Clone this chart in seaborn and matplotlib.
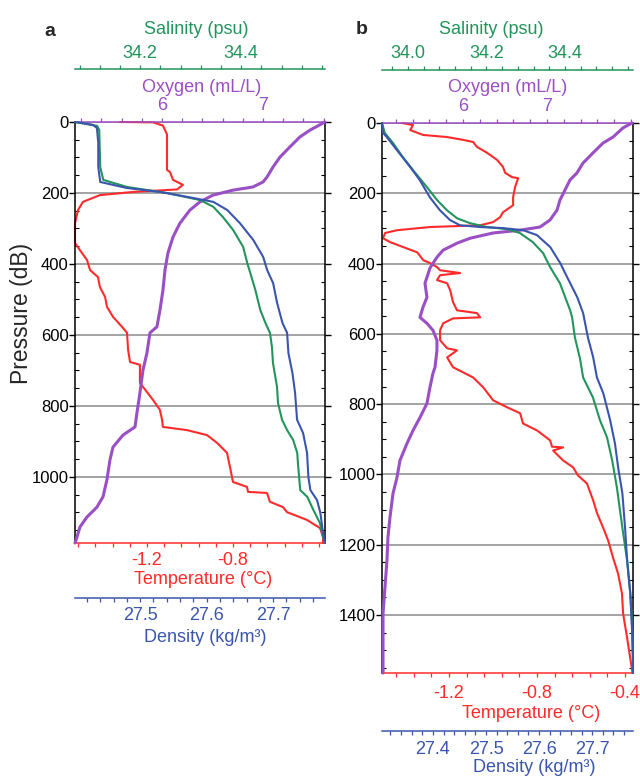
import matplotlib
matplotlib.use("Agg")
import matplotlib.pyplot as plt
from matplotlib.ticker import FixedLocator, MultipleLocator
import seaborn as sns

sns.set_style("ticks")
plt.rcParams["font.family"] = ["Liberation Sans", "DejaVu Sans"]

RED = "#ff2b2b"
PURPLE = "#9a4fc4"
GREEN = "#23945c"
BLUE = "#3a55ad"
GRID = "#8a8a8a"

# ---------------- Station a ----------------
a_temp_p = [0, 1, 10, 35, 135, 141, 163, 177, 190, 197, 206, 225, 248, 285, 341, 361,
            389, 417, 437, 465, 493, 521, 549, 580, 594, 642, 676, 684, 735, 761, 783,
            811, 839, 859, 868, 882, 904, 932, 972, 1014, 1028, 1042, 1045, 1070, 1085,
            1099, 1121, 1144, 1169, 1186]
a_temp = [-1.326, -1.172, -1.126, -1.107, -1.107, -1.093, -1.079, -1.033, -1.060, -1.265,
          -1.419, -1.498, -1.521, -1.535, -1.535, -1.512, -1.479, -1.465, -1.428, -1.419,
          -1.395, -1.386, -1.358, -1.312, -1.293, -1.288, -1.279, -1.233, -1.233, -1.200,
          -1.172, -1.140, -1.130, -1.126, -1.014, -0.921, -0.874, -0.828, -0.814, -0.800,
          -0.735, -0.730, -0.642, -0.628, -0.567, -0.549, -0.456, -0.395, -0.381, -0.381]

a_oxy_p = [0, 23, 42, 70, 99, 127, 155, 169, 183, 192, 206, 225, 248, 285, 324, 369, 417,
           473, 530, 577, 594, 651, 699, 763, 820, 859, 882, 916, 952, 1008, 1056, 1085,
           1113, 1141, 1178, 1186]
a_oxy = [7.614, 7.465, 7.366, 7.267, 7.168, 7.099, 7.040, 7.000, 6.901, 6.703, 6.505,
         6.376, 6.277, 6.178, 6.109, 6.059, 6.030, 6.010, 5.980, 5.950, 5.881, 5.851,
         5.812, 5.782, 5.752, 5.733, 5.614, 5.515, 5.485, 5.455, 5.416, 5.356, 5.257,
         5.188, 5.149, 5.139]

a_sal_p = [0, 11, 23, 127, 163, 183, 200, 220, 239, 268, 304, 352, 397, 425, 473, 530,
           566, 594, 634, 679, 746, 792, 839, 868, 896, 932, 972, 1037, 1056, 1093, 1130,
           1169, 1186]
a_sal = [34.071, 34.115, 34.119, 34.121, 34.127, 34.174, 34.253, 34.319, 34.345, 34.364,
         34.384, 34.404, 34.412, 34.418, 34.428, 34.438, 34.448, 34.457, 34.461, 34.463,
         34.471, 34.473, 34.481, 34.491, 34.503, 34.511, 34.513, 34.517, 34.531, 34.543,
         34.556, 34.562, 34.566]

a_dens_p = [0, 8, 17, 59, 127, 169, 186, 197, 211, 225, 248, 285, 332, 380, 417, 454, 510,
            566, 594, 651, 707, 763, 839, 876, 932, 1000, 1037, 1065, 1101, 1158, 1186]
a_dens = [27.402, 27.429, 27.435, 27.437, 27.437, 27.440, 27.480, 27.530, 27.571, 27.610,
          27.631, 27.650, 27.670, 27.685, 27.691, 27.700, 27.706, 27.714, 27.721, 27.723,
          27.729, 27.733, 27.736, 27.745, 27.751, 27.753, 27.756, 27.766, 27.771, 27.775,
          27.778]

# ---------------- Station b ----------------
b_temp_p = [0, 6, 20, 34, 40, 48, 54, 68, 85, 105, 125, 142, 154, 157, 182, 211, 234, 254,
            268, 282, 291, 296, 305, 313, 328, 339, 353, 368, 390, 399, 410, 419, 427, 433,
            447, 456, 476, 510, 533, 541, 553, 556, 570, 590, 618, 641, 647, 667, 695, 724,
            752, 789, 809, 826, 855, 875, 903, 921, 923, 932, 960, 980, 1003, 1026, 1074,
            1111, 1151, 1188, 1236, 1282, 1339, 1396, 1464, 1521, 1565]
b_temp = [-1.414, -1.364, -1.377, -1.318, -1.209, -1.136, -1.091, -1.073, -1.027, -0.982,
          -0.955, -0.945, -0.914, -0.886, -0.900, -0.909, -0.909, -0.955, -0.968, -1.000,
          -1.059, -1.286, -1.436, -1.491, -1.500, -1.468, -1.409, -1.345, -1.318, -1.286,
          -1.255, -1.241, -1.150, -1.241, -1.255, -1.209, -1.195, -1.182, -1.164, -1.073,
          -1.059, -1.182, -1.227, -1.241, -1.241, -1.209, -1.164, -1.209, -1.182, -1.091,
          -1.045, -1.000, -0.936, -0.877, -0.864, -0.800, -0.741, -0.732, -0.682, -0.727,
          -0.682, -0.636, -0.614, -0.573, -0.545, -0.527, -0.500, -0.477, -0.455, -0.432,
          -0.414, -0.409, -0.391, -0.377, -0.366]

b_oxy_p = [0, 14, 40, 57, 85, 114, 142, 162, 191, 219, 248, 276, 296, 305, 313, 328, 342,
           362, 382, 399, 413, 439, 456, 496, 524, 553, 570, 590, 618, 647, 695, 712, 752,
           798, 838, 875, 912, 960, 1009, 1054, 1122, 1179, 1245, 1322, 1396, 1521, 1565]
b_oxy = [8.012, 7.905, 7.786, 7.667, 7.548, 7.429, 7.357, 7.274, 7.214, 7.155, 7.119,
         7.036, 6.917, 6.679, 6.357, 6.083, 5.929, 5.762, 5.690, 5.643, 5.607, 5.571,
         5.548, 5.571, 5.524, 5.488, 5.571, 5.643, 5.690, 5.690, 5.667, 5.643, 5.607,
         5.571, 5.488, 5.405, 5.333, 5.250, 5.214, 5.167, 5.131, 5.107, 5.095, 5.071,
         5.048, 5.048, 5.048]

b_sal_p = [0, 28, 57, 97, 134, 182, 219, 248, 271, 285, 296, 302, 313, 339, 370, 410, 456,
           533, 553, 610, 670, 724, 781, 846, 895, 960, 1037, 1103, 1168, 1245, 1339, 1436,
           1565]
b_sal = [33.934, 33.941, 33.962, 33.987, 34.013, 34.048, 34.074, 34.099, 34.125, 34.158,
         34.201, 34.252, 34.285, 34.318, 34.344, 34.362, 34.387, 34.413, 34.418, 34.425,
         34.438, 34.446, 34.471, 34.489, 34.507, 34.520, 34.532, 34.540, 34.548, 34.558,
         34.566, 34.571, 34.573]

b_dens_p = [0, 28, 40, 77, 125, 162, 211, 248, 276, 291, 296, 299, 305, 319, 353, 399, 439,
            496, 541, 610, 667, 724, 769, 846, 912, 980, 1054, 1151, 1245, 1339, 1436, 1521,
            1565]
b_dens = [27.304, 27.306, 27.313, 27.332, 27.357, 27.375, 27.394, 27.413, 27.432, 27.451,
          27.489, 27.532, 27.570, 27.596, 27.621, 27.640, 27.653, 27.672, 27.683, 27.692,
          27.702, 27.709, 27.721, 27.734, 27.743, 27.749, 27.757, 27.762, 27.766, 27.772,
          27.775, 27.777, 27.777]

# Axis limits and labelled ticks for each station
a_lims = dict(p=(0, 1186), temp=(-1.535, -0.372), oxy=(5.139, 7.614),
              sal=(34.071, 34.566), dens=(27.402, 27.778))
b_lims = dict(p=(0, 1565), temp=(-1.505, -0.364), oxy=(5.036, 8.024),
              sal=(33.934, 34.573), dens=(27.304, 27.777))
a_ticks = dict(p=[0, 200, 400, 600, 800, 1000], temp=[-1.2, -0.8], oxy=[6, 7],
               sal=[34.2, 34.4], dens=[27.5, 27.6, 27.7])
b_ticks = dict(p=[0, 200, 400, 600, 800, 1000, 1200, 1400], temp=[-1.2, -0.8, -0.4],
               oxy=[6, 7], sal=[34.0, 34.2, 34.4], dens=[27.4, 27.5, 27.6, 27.7])
a_tick_text = dict(temp=["-1.2", "-0.8"], oxy=["6", "7"], sal=["34.2", "34.4"],
                   dens=["27.5", "27.6", "27.7"])
b_tick_text = dict(temp=["-1.2", "-0.8", "-0.4"], oxy=["6", "7"],
                   sal=["34.0", "34.2", "34.4"], dens=["27.4", "27.5", "27.6", "27.7"])

FS = 13
PX = 0.72  # points per pixel at 100 dpi
W, H = 640, 781

fig = plt.figure(figsize=(W / 100, H / 100), dpi=100)


def hide_spines(axis, keep):
    for name, sp in axis.spines.items():
        sp.set_visible(name == keep)


def place_title(axis, text, color, x_frac, y_px, top_px, bot_px):
    """Put an axis title with its centre at a given pixel row."""
    axis.set_xlabel(text, color=color, fontsize=FS)
    axis.xaxis.set_label_coords(x_frac, (bot_px - y_px) / (bot_px - top_px))
    axis.xaxis.label.set_va("center")


def draw_station(box, letter, letter_xy, data, lims, ticks, tick_text, lay, show_ylabel):
    left, top, right, bottom = box
    rect = [left / W, 1 - bottom / H, (right - left) / W, (bottom - top) / H]
    (tp, tv), (op, ov), (sp_, sv), (dp, dv) = data
    ax = fig.add_axes(rect)
    ax_o = ax.twiny()
    ax_s = ax.twiny()
    ax_d = ax.twiny()

    # profiles
    sns.lineplot(x=tv, y=tp, ax=ax, color=RED, lw=1.5, sort=False, estimator=None,
                 clip_on=False)
    sns.lineplot(x=ov, y=op, ax=ax_o, color=PURPLE, lw=2.2, sort=False, estimator=None,
                 clip_on=False)
    sns.lineplot(x=sv, y=sp_, ax=ax_s, color=GREEN, lw=1.5, sort=False, estimator=None,
                 clip_on=False)
    sns.lineplot(x=dv, y=dp, ax=ax_d, color=BLUE, lw=1.5, sort=False, estimator=None,
                 clip_on=False)

    # pressure axis
    ax.set_ylim(lims["p"][1], lims["p"][0])
    ax.yaxis.set_major_locator(FixedLocator(ticks["p"]))
    ax.yaxis.set_minor_locator(MultipleLocator(50))
    ax.tick_params(axis="y", which="major", direction="out", length=4, width=1,
                   labelsize=12, pad=0.5, left=True, right=True, colors="black")
    ax.tick_params(axis="y", which="minor", direction="in", length=3, width=0.8,
                   left=True, right=True, colors="black")
    ax.yaxis.grid(True, which="major", color=GRID, lw=1.1)
    ax.xaxis.grid(False)
    ax.set_ylabel("")
    for side in ("left", "right"):
        ax.spines[side].set_color("black")
        ax.spines[side].set_linewidth(1.1)
    ax.spines["top"].set_visible(False)

    # temperature: bottom spine of the frame
    ax.set_xlim(*lims["temp"])
    ax.xaxis.set_major_locator(FixedLocator(ticks["temp"]))
    ax.set_xticklabels(tick_text["temp"])
    ax.xaxis.set_minor_locator(MultipleLocator(0.08))
    ax.spines["bottom"].set_color(RED)
    ax.spines["bottom"].set_linewidth(1.1)
    ax.tick_params(axis="x", which="both", direction="out", length=3, width=0.9,
                   colors=RED, labelsize=FS, pad=lay["temp_pad"], bottom=True, top=False)
    place_title(ax, "Temperature (°C)", RED, lay["temp_x"], lay["temp_y"], top, bottom)

    # oxygen: top spine of the frame
    hide_spines(ax_o, "top")
    ax_o.set_xlim(*lims["oxy"])
    ax_o.xaxis.set_major_locator(FixedLocator(ticks["oxy"]))
    ax_o.set_xticklabels(tick_text["oxy"])
    ax_o.xaxis.set_minor_locator(MultipleLocator(0.2))
    ax_o.spines["top"].set_color(PURPLE)
    ax_o.spines["top"].set_linewidth(1.1)
    ax_o.tick_params(axis="x", which="both", direction="out", length=3, width=0.9,
                     colors=PURPLE, labelsize=FS, pad=2.8)
    place_title(ax_o, "Oxygen (mL/L)", PURPLE, lay["oxy_x"], lay["oxy_y"], top, bottom)

    # salinity: detached axis above
    hide_spines(ax_s, "top")
    ax_s.spines["top"].set_position(("outward", lay["sal_off"] * PX))
    ax_s.set_xlim(*lims["sal"])
    ax_s.xaxis.set_major_locator(FixedLocator(ticks["sal"]))
    ax_s.set_xticklabels(tick_text["sal"])
    ax_s.xaxis.set_minor_locator(MultipleLocator(0.04))
    ax_s.spines["top"].set_color(GREEN)
    ax_s.spines["top"].set_linewidth(1.1)
    ax_s.tick_params(axis="x", which="both", direction="out", length=3, width=0.9,
                     colors=GREEN, labelsize=FS, pad=2.4)
    place_title(ax_s, "Salinity (psu)", GREEN, lay["sal_x"], lay["sal_y"], top, bottom)

    # density: detached axis below
    hide_spines(ax_d, "bottom")
    ax_d.xaxis.tick_bottom()
    ax_d.xaxis.set_label_position("bottom")
    ax_d.spines["bottom"].set_position(("outward", lay["dens_off"] * PX))
    ax_d.set_xlim(*lims["dens"])
    ax_d.xaxis.set_major_locator(FixedLocator(ticks["dens"]))
    ax_d.set_xticklabels(tick_text["dens"])
    ax_d.xaxis.set_minor_locator(MultipleLocator(0.02))
    ax_d.spines["bottom"].set_color(BLUE)
    ax_d.spines["bottom"].set_linewidth(1.1)
    ax_d.tick_params(axis="x", which="both", direction="out", length=3, width=0.9,
                     colors=BLUE, labelsize=FS, pad=lay["dens_pad"], bottom=True, top=False)
    place_title(ax_d, "Density (kg/m³)", BLUE, lay["dens_x"], lay["dens_y"], top, bottom)

    for a in (ax_o, ax_s, ax_d):
        a.set_ylabel("")

    if show_ylabel:
        ax.set_ylabel("Pressure (dB)", fontsize=16.5)
        ax.yaxis.set_label_coords(-0.168, 0.546)

    fig.text(letter_xy[0] / W, 1 - letter_xy[1] / H, letter, fontsize=14,
             fontweight="bold", ha="center", va="center")
    return ax


a_layout = dict(sal_off=53, dens_off=55, temp_pad=3.7, dens_pad=3.7,
                sal_x=0.484, sal_y=29, oxy_x=0.508, oxy_y=87,
                temp_x=0.512, temp_y=580, dens_x=0.52, dens_y=637)
b_layout = dict(sal_off=53, dens_off=58, temp_pad=5.6, dens_pad=4.4,
                sal_x=0.434, sal_y=29, oxy_x=0.5, oxy_y=87,
                temp_x=0.594, temp_y=713, dens_x=0.606, dens_y=768)

draw_station((75, 122, 325, 543), "a", (50, 31),
             [(a_temp_p, a_temp), (a_oxy_p, a_oxy), (a_sal_p, a_sal), (a_dens_p, a_dens)],
             a_lims, a_ticks, a_tick_text, a_layout, True)
draw_station((382, 123, 633, 673), "b", (362, 30),
             [(b_temp_p, b_temp), (b_oxy_p, b_oxy), (b_sal_p, b_sal), (b_dens_p, b_dens)],
             b_lims, b_ticks, b_tick_text, b_layout, False)

fig.savefig("out.png", dpi=100)
